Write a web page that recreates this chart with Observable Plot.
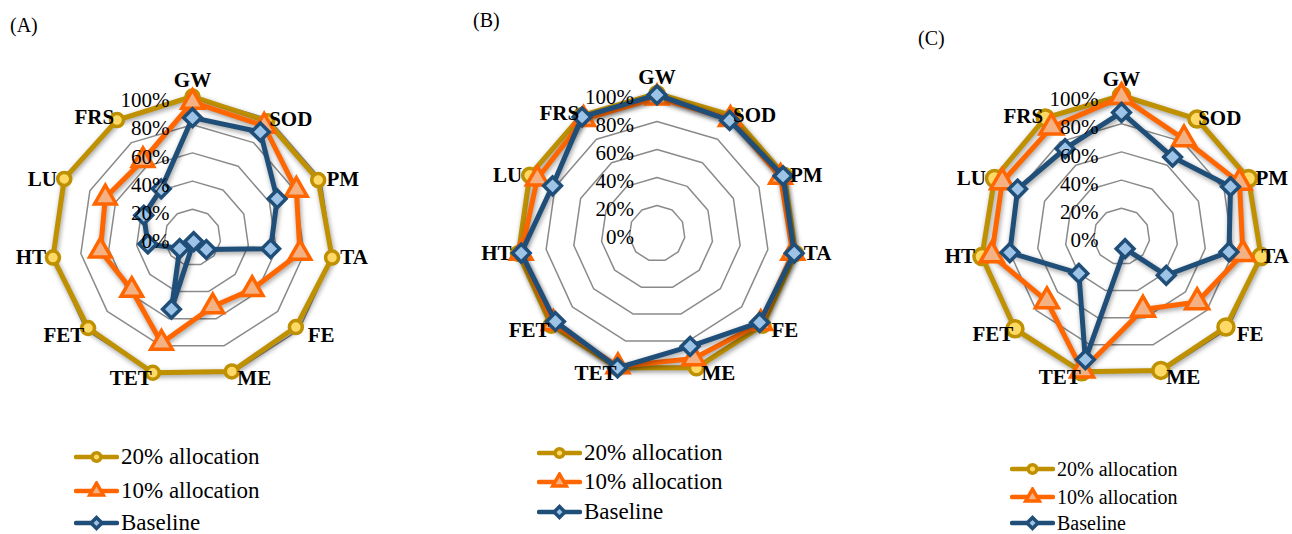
<!DOCTYPE html>
<html><head><meta charset="utf-8">
<script src="https://cdn.jsdelivr.net/npm/d3@7"></script>
<script src="https://cdn.jsdelivr.net/npm/@observablehq/plot@0.6"></script>
<style>
html,body{margin:0;padding:0;background:#fff;}
#root{position:relative;width:1292px;height:534px;overflow:hidden;font-family:"Liberation Serif","Times New Roman",serif;color:#000;}
.panel{position:absolute;top:0;}
.title{position:absolute;font-size:20px;line-height:24px;}
.leg{position:absolute;display:flex;align-items:center;white-space:nowrap;height:20px;line-height:20px;}
.leg svg{margin-right:2px;}
</style></head>
<body><div id="root"></div>
<script>
// ---- data ----
const AXES = ["GW","SOD","PM","TA","FE","ME","TET","FET","HT","LU","FRS"];
const SERIES = ["20% allocation","10% allocation","Baseline"];
const TICK_VALUES = [0, 0.2, 0.4, 0.6, 0.8, 1.0];
const TICK_LABELS = ["0%","20%","40%","60%","80%","100%"];
const PANEL_LABELS = ["(A)","(B)","(C)"];

const A_20   = [1.00, 0.98, 0.98, 1.00, 0.97, 0.99, 1.00, 0.98, 1.00, 1.00, 0.99];
const A_10   = [0.96, 0.94, 0.81, 0.77, 0.56, 0.51, 0.78, 0.57, 0.66, 0.68, 0.65];
const A_BASE = [0.85, 0.89, 0.66, 0.56, 0.13, 0.03, 0.53, 0.12, 0.32, 0.38, 0.41];

const B_20   = [1.00, 1.00, 1.00, 1.00, 1.00, 1.00, 1.00, 1.00, 1.00, 1.00, 1.00];
const B_10   = [0.97, 0.97, 0.97, 0.98, 0.98, 0.93, 0.99, 0.98, 0.98, 0.94, 0.97];
const B_BASE = [0.99, 0.96, 0.99, 0.99, 0.97, 0.84, 1.00, 0.96, 0.98, 0.82, 0.99];

const C_20   = [1.00, 0.99, 0.99, 1.00, 0.98, 0.99, 1.00, 1.00, 1.00, 0.99, 1.00];
const C_10   = [0.99, 0.82, 0.92, 0.87, 0.71, 0.54, 0.99, 0.70, 0.93, 0.93, 0.92];
const C_BASE = [0.88, 0.67, 0.85, 0.77, 0.42, 0.09, 0.91, 0.40, 0.80, 0.81, 0.74];

const PANEL_VALUES = [[A_20, A_10, A_BASE], [B_20, B_10, B_BASE], [C_20, C_10, C_BASE]];

// ---- styles & layout ----
const STYLE = {
  "20% allocation": {line: "#BF9000", fill: "#FFD966", symbol: "circle"},
  "10% allocation": {line: "#FF6600", fill: "#F4B183", symbol: "triangle"},
  "Baseline":       {line: "#1F4E79", fill: "#9DC3E6", symbol: "diamond2"}
};
const FONT = "Liberation Serif, Times New Roman, serif";
const LAYOUT = [
  {left: 0,   W: 430, H: 420, cx: 192,   cy: 237, R: 141, sym: [6.5, 8, 8], title: [10, 13],  shift: {},
   legend: {x: 74,   rows: [457, 491, 523], fs: 23}},
  {left: 430, W: 440, H: 420, cx: 656.5, cy: 233, R: 140, sym: [7, 8, 8],   title: [473, 8],  shift: {},
   legend: {x: 537,  rows: [453, 482, 512], fs: 23}},
  {left: 870, W: 422, H: 420, cx: 1121,  cy: 236, R: 141, sym: [8, 8.5, 8], title: [918, 26], shift: {TA: -8},
   legend: {x: 1010, rows: [469, 497, 523], fs: 20}}
];

const N = AXES.length;
const ang = i => i * 2 * Math.PI / N;
const root = document.getElementById("root");

LAYOUT.forEach((L, p) => {
  const cxl = L.cx - L.left;
  const rows = [];
  SERIES.forEach((s, k) => PANEL_VALUES[p][k].forEach((v, i) => rows.push({series: s, i, v})));
  const ring = [];
  TICK_VALUES.filter(t => t > 0).forEach(t => AXES.forEach((a, i) => ring.push({t, i})));
  const labels = AXES.map((a, i) => {
    const s = Math.sin(ang(i)), c = Math.cos(ang(i));
    const side = s > 0.1 ? 1 : s < -0.1 ? -1 : 0;
    const dxPx = side * 22 + (L.shift[a] || 0);
    const dyPx = i === 0 ? -16 : c < -0.5 ? 5 : (a === "FRS" ? -2 : 0);
    return {a, x: s + dxPx / L.R, y: c - dyPx / L.R};
  });

  const marks = [
    Plot.line(ring, {x: d => d.t * Math.sin(ang(d.i)), y: d => d.t * Math.cos(ang(d.i)), z: "t",
      curve: "linear-closed", stroke: "#8a8a8a", strokeWidth: 1.5})
  ];
  SERIES.forEach((s, k) => {
    const data = rows.filter(d => d.series === s);
    const st = STYLE[s];
    marks.push(Plot.line(data, {x: d => d.v * Math.sin(ang(d.i)), y: d => d.v * Math.cos(ang(d.i)),
      curve: "linear-closed", stroke: st.line, strokeWidth: 5, strokeLinejoin: "round"}));
    marks.push(Plot.dot(data, {x: d => d.v * Math.sin(ang(d.i)), y: d => d.v * Math.cos(ang(d.i)),
      symbol: st.symbol, r: L.sym[k], fill: st.fill, stroke: st.line, strokeWidth: 3.5}));
  });
  marks.push(Plot.text(TICK_VALUES, {x: d => 0, y: d => d, text: (d, i) => TICK_LABELS[i],
    textAnchor: "end", dx: -23, dy: 4, fontSize: 21, fontFamily: FONT, fill: "#000"}));
  marks.push(Plot.text(labels, {x: "x", y: "y", text: "a", textAnchor: "middle", lineAnchor: "middle",
    fontSize: 21, fontWeight: "bold", fontFamily: FONT, fill: "#000"}));

  const svg = Plot.plot({
    width: L.W, height: L.H, margin: 0,
    x: {domain: [-cxl / L.R, (L.W - cxl) / L.R], axis: null},
    y: {domain: [-(L.H - L.cy) / L.R, L.cy / L.R], axis: null},
    style: {background: "transparent", overflow: "visible"},
    marks
  });
  svg.classList.add("panel");
  svg.style.left = L.left + "px";
  d3.select(svg).selectAll('g[aria-label="line"]').filter((d, i) => i > 0)
    .style("filter", "drop-shadow(1px 2px 2.5px rgba(0,0,0,0.4))");
  root.appendChild(svg);

  const t = document.createElement("div");
  t.className = "title";
  t.style.left = L.title[0] + "px"; t.style.top = L.title[1] + "px";
  t.textContent = PANEL_LABELS[p];
  root.appendChild(t);

  SERIES.forEach((s, k) => {
    const st = STYLE[s];
    const row = document.createElement("div");
    row.className = "leg";
    row.style.left = L.legend.x + "px";
    row.style.top = (L.legend.rows[k] - 10) + "px";
    row.style.fontSize = L.legend.fs + "px";
    const sw = d3.create("svg").attr("width", 45).attr("height", 20);
    sw.append("line").attr("x1", 2).attr("x2", 43).attr("y1", 10).attr("y2", 10)
      .attr("stroke", st.line).attr("stroke-width", 4.5).attr("stroke-linecap", "round");
    const symMap = {circle: d3.symbolCircle, triangle: d3.symbolTriangle, diamond2: d3.symbolDiamond2};
    const size = [60, 80, 75][k];
    sw.append("path").attr("d", d3.symbol(symMap[st.symbol], size)()).attr("transform", "translate(22.5,10)")
      .attr("fill", st.fill).attr("stroke", st.line).attr("stroke-width", 3.5);
    row.appendChild(sw.node());
    const sp = document.createElement("span");
    sp.textContent = s;
    row.appendChild(sp);
    root.appendChild(row);
  });
});
</script></body></html>
